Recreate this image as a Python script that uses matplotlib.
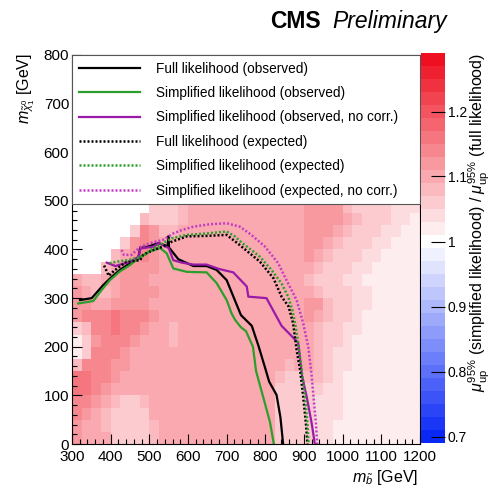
import numpy as np
import matplotlib
matplotlib.use("Agg")
import matplotlib.pyplot as plt
from matplotlib.colors import LinearSegmentedColormap
from matplotlib.ticker import MultipleLocator

plt.rcParams['font.family'] = ['Liberation Sans', 'DejaVu Sans']
plt.rcParams['mathtext.fontset'] = 'custom'
plt.rcParams['mathtext.rm'] = 'Liberation Sans'
plt.rcParams['mathtext.it'] = 'Liberation Sans:italic'
plt.rcParams['mathtext.bf'] = 'Liberation Sans:bold'

# --- data ---
# ratio map on 25 GeV bins, columns 300..1175 GeV, rows listed from the top (475-500 GeV)
# each row is run-length coded: (level, number of bins); level d -> ratio 1.00 + 0.02*d, None = empty
x_edges = np.arange(300, 1201, 25)
y_edges = np.arange(0, 501, 25)
ratio_rows = [
    [(None, 8), (3, 3), (4, 1), (5, 12), (6, 4), (4, 1), (3, 4), (2, 3)],
    [(None, 7), (4, 1), (3, 3), (4, 1), (5, 12), (6, 4), (5, 1), (4, 1), (3, 3), (2, 2), (1, 1)],
    [(None, 6), (3, 1), (7, 1), (6, 1), (4, 2), (5, 13), (6, 3), (5, 1), (4, 1), (3, 3), (2, 2), (1, 2)],
    [(None, 5), (3, 1), (6, 1), (7, 1), (6, 1), (5, 15), (6, 2), (5, 1), (4, 1), (3, 3), (2, 2), (1, 3)],
    [(None, 4), (4, 1), (5, 1), (6, 1), (7, 1), (6, 1), (5, 15), (6, 1), (5, 1), (4, 1), (3, 3), (2, 2), (1, 4)],
    [(None, 3), (4, 1), (5, 1), (6, 4), (5, 16), (4, 1), (3, 3), (2, 2), (1, 5)],
    [(5, 1), (4, 2), (5, 2), (6, 3), (5, 16), (4, 1), (3, 3), (2, 2), (1, 6)],
    [(6, 1), (5, 1), (4, 2), (5, 1), (6, 4), (5, 16), (4, 1), (3, 3), (2, 2), (1, 5)],
    [(6, 2), (5, 2), (6, 4), (5, 16), (6, 2), (4, 1), (3, 2), (2, 2), (1, 5)],
    [(6, 1), (7, 3), (8, 1), (7, 3), (6, 1), (5, 15), (6, 1), (5, 1), (4, 1), (3, 2), (2, 1), (1, 6)],
    [(3, 1), (4, 1), (7, 2), (8, 1), (7, 2), (6, 1), (5, 2), (4, 1), (5, 14), (4, 1), (3, 2), (2, 2), (1, 6)],
    [(1, 1), (3, 1), (6, 1), (7, 3), (6, 1), (5, 3), (4, 1), (5, 14), (4, 1), (3, 2), (2, 1), (1, 7)],
    [(1, 1), (3, 1), (7, 3), (6, 1), (5, 19), (4, 1), (3, 1), (2, 2), (1, 7)],
    [(4, 1), (7, 3), (6, 2), (5, 16), (4, 1), (5, 2), (4, 1), (3, 1), (2, 2), (1, 7)],
    [(8, 2), (7, 2), (6, 1), (5, 16), (4, 1), (3, 2), (4, 2), (3, 1), (2, 1), (1, 8)],
    [(8, 2), (7, 1), (6, 1), (5, 17), (3, 5), (2, 2), (1, 8)],
    [(7, 2), (6, 1), (5, 1), (4, 1), (3, 2), (4, 1), (5, 13), (3, 4), (2, 3), (1, 8)],
    [(7, 1), (6, 1), (5, 1), (4, 1), (3, 4), (5, 13), (3, 4), (2, 3), (1, 8)],
    [(6, 1), (5, 2), (4, 1), (3, 4), (4, 1), (5, 12), (3, 4), (2, 2), (1, 9)],
    [(6, 1), (5, 3), (3, 4), (4, 1), (5, 12), (3, 4), (2, 2), (1, 9)],
]

# exclusion contours (m_sbottom, m_neutralino) in GeV
full_obs_x = [321, 351, 381, 403, 424, 450, 471, 476, 497, 523, 548, 549, 551, 575, 614, 648, 674, 700, 721, 737, 765, 783, 800, 810, 829, 839, 846]
full_obs_y = [296, 300, 327, 344, 358, 372, 380, 403, 406, 413, 407, 427, 404, 380, 366, 366, 358, 337, 296, 265, 243, 200, 155, 128, 101, 55, 0]
simp_obs_x = [316, 355, 377, 398, 424, 450, 476, 502, 528, 545, 562, 597, 648, 674, 700, 713, 722, 737, 750, 768, 776, 795, 812, 822]
simp_obs_y = [289, 294, 317, 337, 355, 368, 385, 396, 403, 392, 361, 354, 353, 331, 296, 268, 255, 240, 232, 200, 150, 95, 45, 0]
nocorr_obs_x = [390, 412, 451, 472, 477, 511, 524, 550, 562, 584, 614, 648, 680, 717, 752, 756, 803, 842, 868, 885, 895, 907, 920, 928]
nocorr_obs_y = [373, 366, 375, 385, 402, 406, 413, 403, 378, 373, 369, 369, 360, 353, 324, 303, 300, 243, 222, 208, 140, 97, 42, 0]
full_exp_x = [383, 395, 410, 441, 476, 484, 510, 536, 558, 597, 648, 700, 734, 786, 821, 842, 860, 872, 881, 890, 898, 905, 909]
full_exp_y = [367, 346, 357, 375, 378, 389, 399, 406, 416, 427, 428, 430, 409, 375, 341, 303, 283, 248, 193, 152, 97, 42, 0]
simp_exp_x = [397, 416, 450, 484, 505, 519, 558, 597, 648, 700, 721, 739, 764, 786, 816, 842, 859, 870, 877, 885, 894, 903, 909, 912]
simp_exp_y = [372, 375, 379, 386, 400, 406, 423, 430, 433, 437, 427, 414, 399, 385, 358, 330, 303, 275, 248, 207, 152, 97, 42, 0]
nocorr_exp_x = [428, 434, 454, 476, 502, 536, 562, 584, 614, 657, 700, 734, 764, 799, 833, 859, 881, 898, 911, 920, 926, 931, 934]
nocorr_exp_y = [399, 389, 389, 405, 413, 420, 433, 440, 447, 452, 454, 447, 430, 406, 372, 330, 296, 248, 200, 139, 84, 42, 0]

cbar_ticks = [0.7, 0.8, 0.9, 1.0, 1.1, 1.2]
cbar_ticklabels = ['0.7', '0.8', '0.9', '1', '1.1', '1.2']

# build the map
ncol = len(x_edges) - 1
z = np.full((len(y_edges) - 1, ncol), np.nan)
for i, runs in enumerate(ratio_rows[::-1]):
    cells = []
    for level, n in runs:
        cells += [np.nan if level is None else 1.0 + 0.02 * level] * n
    cells = (cells + [cells[-1]] * ncol)[:ncol]
    z[i, :] = cells

cmap = LinearSegmentedColormap.from_list(
    'bwr_root', [(0.0, '#0a28f5'), (0.516, '#ffffff'), (1.0, '#ee1020')], N=30)

fig = plt.figure(figsize=(4.95, 4.90), dpi=100)
ax = fig.add_axes([72/495, 46/490, 348/495, 389/490])
cax = fig.add_axes([421/495, 47/490, 24/495, 390/490])

mesh = ax.pcolormesh(x_edges, y_edges, np.ma.masked_invalid(z), cmap=cmap,
                     vmin=0.69, vmax=1.29, shading='flat')

dot = (0, (0.8, 0.8))
ax.plot(full_obs_x, full_obs_y, color='black', lw=1.6, label='Full likelihood (observed)')
ax.plot(simp_obs_x, simp_obs_y, color='#2b9e2b', lw=1.6, label='Simplified likelihood (observed)')
ax.plot(nocorr_obs_x, nocorr_obs_y, color='#9a1aa8', lw=1.6, label='Simplified likelihood (observed, no corr.)')
ax.plot(full_exp_x, full_exp_y, color='black', lw=1.8, ls=dot, label='Full likelihood (expected)')
ax.plot(simp_exp_x, simp_exp_y, color='#2b9e2b', lw=1.8, ls=dot, label='Simplified likelihood (expected)')
ax.plot(nocorr_exp_x, nocorr_exp_y, color='#c43cc4', lw=1.8, ls=dot, label='Simplified likelihood (expected, no corr.)')

ax.set_xlim(300, 1200)
ax.set_ylim(0, 800)
ax.xaxis.set_major_locator(MultipleLocator(100))
ax.xaxis.set_minor_locator(MultipleLocator(20))
ax.yaxis.set_major_locator(MultipleLocator(100))
ax.yaxis.set_minor_locator(MultipleLocator(20))
ax.tick_params(which='both', direction='in', labelsize=11, width=0.8, color='black')
ax.tick_params(axis='x', which='major', length=7.5, pad=4)
ax.tick_params(axis='x', which='minor', length=3.8)
ax.tick_params(axis='y', which='major', length=7.5, pad=2)
ax.tick_params(axis='y', which='minor', length=3.8)
for s in ax.spines.values():
    s.set_linewidth(0.8)

leg = ax.legend(loc='upper left', bbox_to_anchor=(0.0, 0.0, 1.0, 1.0), mode='expand',
                borderaxespad=0, fontsize=9.8, handlelength=4.5, handletextpad=1.15,
                labelspacing=0.76, borderpad=0.5, fancybox=False, framealpha=1,
                edgecolor='#555555')
leg.get_frame().set_linewidth(0.8)

cb = fig.colorbar(mesh, cax=cax, ticks=cbar_ticks)
cb.outline.set_visible(False)
cax.set_yticklabels(cbar_ticklabels)
cax.tick_params(direction='in', length=10, width=0.8, labelsize=10, pad=2)

fig.text(479/495, 1 - 53/490,
         r'$\mu^{95\%}_{\rm up}$ (simplified likelihood) / $\mu^{95\%}_{\rm up}$ (full likelihood)',
         rotation=90, ha='center', va='top', fontsize=11.5)
fig.text(26/495, 1 - 53/490, r'$m_{\tilde{\chi}^{0}_{1}}$ [GeV]', rotation=90,
         ha='center', va='top', fontsize=11.5)
fig.text(418/495, 1 - 482/490, r'$m_{\tilde{b}}$ [GeV]', ha='right', va='baseline', fontsize=11.5)

fig.text(270/495, 1 - 28/490, 'CMS', fontweight='bold', fontsize=16.5, ha='left', va='baseline')
fig.text(332/495, 1 - 28/490, 'Preliminary', fontstyle='italic', fontsize=16.5, ha='left', va='baseline')

fig.savefig('out.png', dpi=100)
